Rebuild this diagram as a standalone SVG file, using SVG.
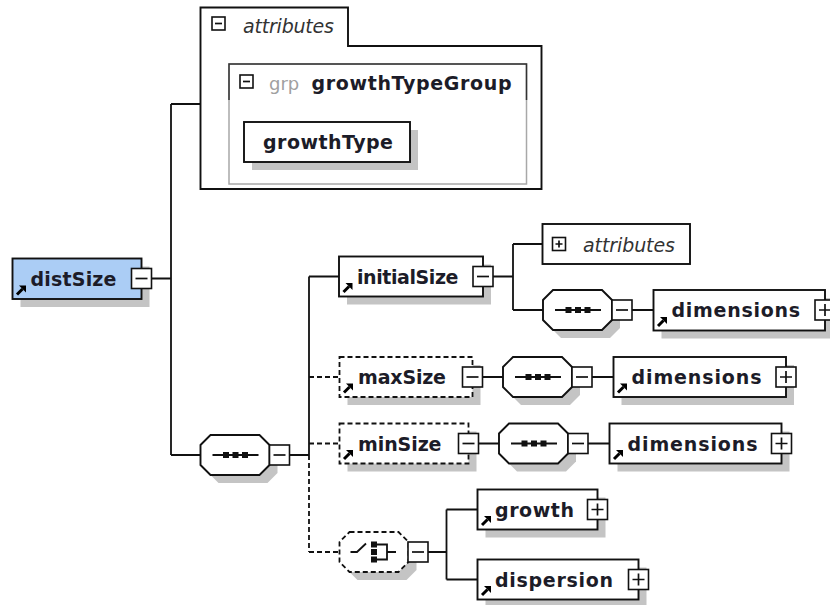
<svg xmlns="http://www.w3.org/2000/svg" xmlns:xlink="http://www.w3.org/1999/xlink" width="830" height="605" viewBox="0 0 830 605">
<style>
.ln{stroke:#111;stroke-width:1.8;fill:none}
.dl{stroke:#111;stroke-width:1.8;fill:none;stroke-dasharray:5 3}
.box{fill:#fff;stroke:#111;stroke-width:1.9}
.dbox{fill:#fff;stroke:#111;stroke-width:1.8;stroke-dasharray:5 3}
.sh{fill:#c4c4c4}
.pm{fill:#fff;stroke:#111;stroke-width:1.6}
.pml{stroke:#111;stroke-width:1.7;fill:none}
.t{font-family:"DejaVu Sans",Verdana,sans-serif;font-weight:bold;font-size:19px;fill:#1c1c28}
.it{font-family:"DejaVu Sans",Verdana,sans-serif;font-style:italic;font-size:19px;fill:#333}
.g{font-family:"DejaVu Sans",Verdana,sans-serif;font-size:18px;fill:#a0a0a0}
</style>
<defs>
<g id="arr"><path d="M0.5,-0.5 L6,-6" stroke="#000" stroke-width="3"/><polygon points="9.5,-9.5 2.5,-9.5 9.5,-2.5" fill="#000"/></g>
<g id="mn"><rect class="pm" x="0" y="0" width="20" height="20"/><path class="pml" d="M4,10 H16"/></g>
<g id="pl"><rect class="pm" x="0" y="0" width="20" height="20"/><path class="pml" d="M4,10 H16 M10,4 V16"/></g>
<g id="mns"><rect class="pm" x="0" y="0" width="13" height="13"/><path class="pml" d="M3,6.5 H10"/></g>
<g id="pls"><rect class="pm" x="0" y="0" width="13" height="13"/><path class="pml" d="M3,6.5 H10 M6.5,3 V10"/></g>
<path id="oct" d="M10,0 H59 L69,10 V30 L59,40 H10 L0,30 V10 Z"/>
<g id="seqi"><path class="ln" d="M12,20 H58"/><rect x="22.5" y="17" width="6" height="6" fill="#111"/><rect x="32" y="17" width="6" height="6" fill="#111"/><rect x="41.5" y="17" width="6" height="6" fill="#111"/></g>
</defs>

<g id="connectors">
<path class="ln" d="M151.5,278.5 H171 M171,104 V455 M171,104 H200.5 M171,455 H200.5"/>
<path class="ln" d="M289.5,455 H309 M309,276.5 V455 M309,276.5 H339"/>
<path class="dl" d="M309,455 V552 M309,377 H339.5 M309,443.5 H339.5 M309,552 H339.5"/>
<path class="ln" d="M493,276.5 H513 M513,244 V310 M513,244 H542.5 M513,310 H543 M632,310 H653.5"/>
<path class="ln" d="M482.5,377 H503 M592,377 H613.5"/>
<path class="ln" d="M478.5,443.5 H499 M588,443.5 H609.5"/>
<path class="ln" d="M428,552 H446.5 M446.5,509.5 V579.5 M446.5,509.5 H477.5 M446.5,579.5 H477.5"/>
</g>

<g id="attributes-top">
<path class="box" d="M200.5,7.5 H348 V46 H541.5 V189 H200.5 Z"/>
<use href="#mns" x="212" y="17"/>
<text class="it" x="243" y="33" textLength="91" lengthAdjust="spacing">attributes</text>
</g>

<g id="growthTypeGroup">
<rect x="229" y="64" width="297.5" height="120" fill="#fff" stroke="#a8a8a8" stroke-width="1.5"/>
<path d="M229,100 V64 H526.5 V100" fill="none" stroke="#333" stroke-width="1.5"/>
<use href="#mns" x="240" y="75"/>
<text class="g" x="269" y="90">grp</text>
<text class="t" x="311.5" y="90" textLength="200" lengthAdjust="spacing">growthTypeGroup</text>
</g>

<g id="growthType">
<rect class="sh" x="252" y="130" width="166" height="40"/>
<rect class="box" x="244" y="122" width="166" height="40"/>
<text class="t" x="263" y="149" textLength="130" lengthAdjust="spacing">growthType</text>
</g>

<g id="distSize">
<rect class="sh" x="20.5" y="266.5" width="129" height="40.5"/>
<rect x="12.5" y="258.5" width="129" height="40.5" fill="#abcdf5" stroke="#111" stroke-width="1.9"/>
<use href="#arr" x="16.5" y="295"/>
<text class="t" x="30.5" y="285.5" textLength="86" lengthAdjust="spacing">distSize</text>
<use href="#mn" x="131.5" y="268.5"/>
</g>

<g id="seq-main">
<use href="#oct" x="208.5" y="443" class="sh"/>
<use href="#oct" x="200.5" y="435" class="box"/>
<use href="#seqi" x="200.5" y="435"/>
<use href="#mn" x="269.5" y="445"/>
</g>

<g id="initialSize">
<rect class="sh" x="347" y="264.5" width="144" height="40"/>
<rect class="box" x="339" y="256.5" width="144" height="40"/>
<use href="#arr" x="343" y="292.5"/>
<text class="t" x="357" y="283.5" textLength="101.5" lengthAdjust="spacing">initialSize</text>
<use href="#mn" x="473" y="266.5"/>
</g>

<g id="attributes-initialSize">
<rect class="box" x="542.5" y="224" width="147.5" height="40"/>
<use href="#pls" x="552.5" y="237.5"/>
<text class="it" x="583" y="252" textLength="92" lengthAdjust="spacing">attributes</text>
</g>

<g id="seq-initialSize">
<use href="#oct" x="551" y="298" class="sh"/>
<use href="#oct" x="543" y="290" class="box"/>
<use href="#seqi" x="543" y="290"/>
<use href="#mn" x="612" y="300"/>
</g>

<g id="dimensions-1">
<rect class="sh" x="661.5" y="298" width="171.5" height="40.5"/>
<rect class="box" x="653.5" y="290" width="171.5" height="40.5"/>
<use href="#arr" x="657.5" y="326.5"/>
<text class="t" x="671.5" y="317" textLength="128.5" lengthAdjust="spacing">dimensions</text>
<use href="#pl" x="815" y="300"/>
</g>

<g id="maxSize">
<rect class="sh" x="347.5" y="365" width="133" height="40"/>
<rect class="dbox" x="339.5" y="357" width="133" height="40"/>
<use href="#arr" x="343.5" y="393"/>
<text class="t" x="358" y="384" textLength="88" lengthAdjust="spacing">maxSize</text>
<use href="#mn" x="462.5" y="367"/>
</g>

<g id="seq-maxSize">
<use href="#oct" x="511" y="365" class="sh"/>
<use href="#oct" x="503" y="357" class="box"/>
<use href="#seqi" x="503" y="357"/>
<use href="#mn" x="572" y="367"/>
</g>

<g id="dimensions-2">
<rect class="sh" x="621.5" y="365" width="172.5" height="40"/>
<rect class="box" x="613.5" y="357" width="172.5" height="40"/>
<use href="#arr" x="617.5" y="393"/>
<text class="t" x="631.5" y="384" textLength="130" lengthAdjust="spacing">dimensions</text>
<use href="#pl" x="776" y="367"/>
</g>

<g id="minSize">
<rect class="sh" x="347.5" y="431.5" width="129" height="40"/>
<rect class="dbox" x="339.5" y="423.5" width="129" height="40"/>
<use href="#arr" x="343.5" y="459.5"/>
<text class="t" x="358" y="450.5" textLength="83.5" lengthAdjust="spacing">minSize</text>
<use href="#mn" x="458.5" y="433.5"/>
</g>

<g id="seq-minSize">
<use href="#oct" x="507" y="431.5" class="sh"/>
<use href="#oct" x="499" y="423.5" class="box"/>
<use href="#seqi" x="499" y="423.5"/>
<use href="#mn" x="568" y="433.5"/>
</g>

<g id="dimensions-3">
<rect class="sh" x="617.5" y="431.5" width="172" height="40"/>
<rect class="box" x="609.5" y="423.5" width="172" height="40"/>
<use href="#arr" x="613.5" y="459.5"/>
<text class="t" x="627.5" y="450.5" textLength="130" lengthAdjust="spacing">dimensions</text>
<use href="#pl" x="771.5" y="433.5"/>
</g>

<g id="choice">
<use href="#oct" x="347.5" y="540" class="sh"/>
<use href="#oct" x="339.5" y="532" class="dbox"/>
<path class="ln" d="M350.5,552 H357 L366,543.5"/>
<rect x="371" y="541.5" width="6" height="6" fill="#111"/>
<rect x="371" y="549" width="6" height="6" fill="#111"/>
<rect x="371" y="556.5" width="6" height="6" fill="#111"/>
<path class="ln" d="M377,544.5 H387 V559.5 H377 M387,552 H396"/>
<use href="#mn" x="408" y="542"/>
</g>

<g id="growth">
<rect class="sh" x="485.5" y="497.5" width="120" height="40"/>
<rect class="box" x="477.5" y="489.5" width="120" height="40"/>
<use href="#arr" x="481.5" y="525.5"/>
<text class="t" x="495" y="516.5" textLength="79" lengthAdjust="spacing">growth</text>
<use href="#pl" x="587.5" y="499.5"/>
</g>

<g id="dispersion">
<rect class="sh" x="485.5" y="567.5" width="161" height="40"/>
<rect class="box" x="477.5" y="559.5" width="161" height="40"/>
<use href="#arr" x="481.5" y="595.5"/>
<text class="t" x="495" y="586.5" textLength="118" lengthAdjust="spacing">dispersion</text>
<use href="#pl" x="628.5" y="569.5"/>
</g>
</svg>
